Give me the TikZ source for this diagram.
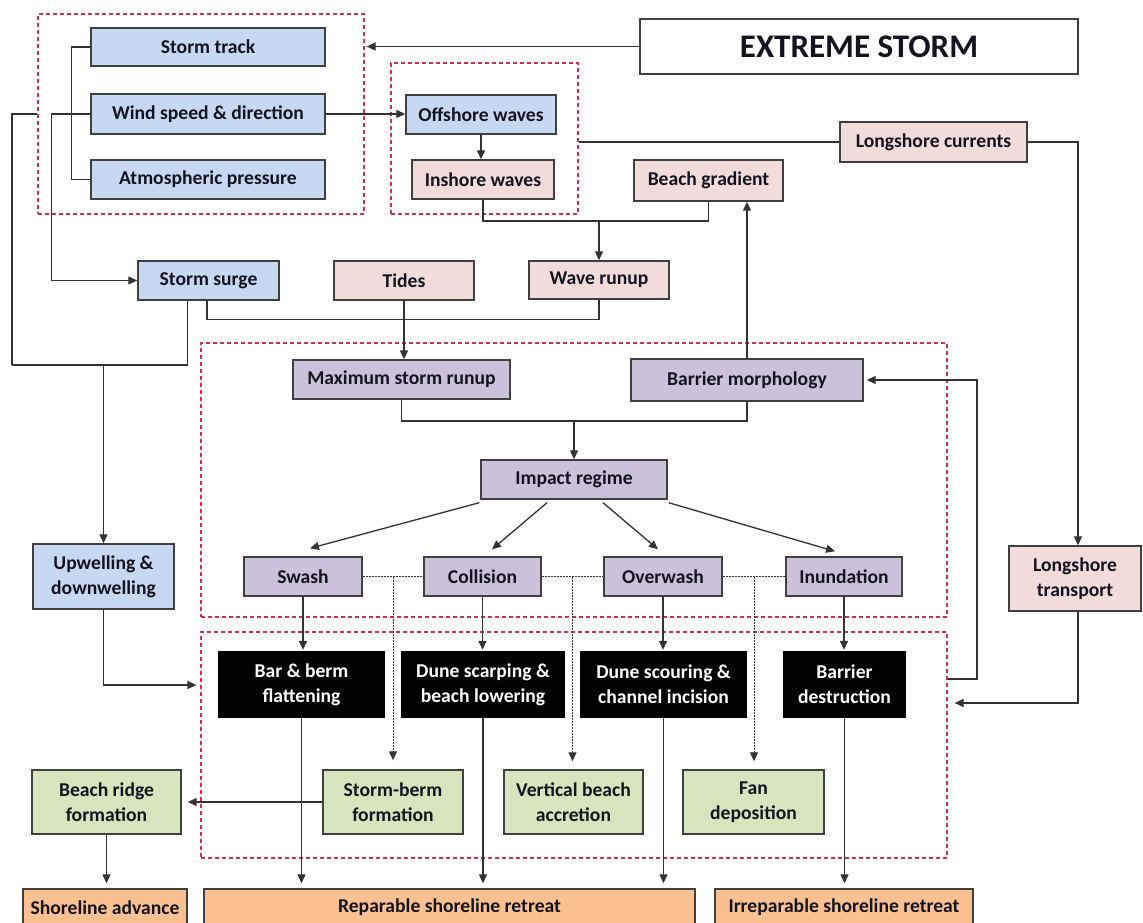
\documentclass[tikz,border=0pt]{standalone}
\usepackage{fontspec}
\setmainfont{Carlito}
\usetikzlibrary{arrows.meta,calc}
\definecolor{cblue}{HTML}{C6D9F1}
\definecolor{cpink}{HTML}{F2DCDB}
\definecolor{cpurp}{HTML}{CCC1DA}
\definecolor{cgreen}{HTML}{D7E4BD}
\definecolor{corange}{HTML}{FAC090}
\definecolor{boxline}{HTML}{404040}
\definecolor{lcol}{HTML}{333333}
\definecolor{dred}{HTML}{D03050}
\definecolor{txt}{HTML}{141420}
\begin{document}
\begin{tikzpicture}[x=1pt,y=-1pt,
  sz/.style 2 args={minimum width=#1pt, minimum height=#2pt},
  box/.style={draw=boxline, line width=1.4pt, inner sep=0pt, align=center,
    font=\fontsize{19.6}{25}\selectfont\bfseries, text=txt},
  bl/.style={box, fill=cblue},
  pk/.style={box, fill=cpink},
  pu/.style={box, fill=cpurp},
  gr/.style={box, fill=cgreen},
  og/.style={box, fill=corange},
  bk/.style={box, fill=black, draw=black, text=white},
  grp/.style={draw=dred, line width=1.2pt, dash pattern=on 4pt off 3pt, inner sep=0pt},
  con/.style={draw=lcol, line width=1.3pt},
  arr/.style={con, -{Triangle[length=9pt,width=8pt]}},
  dot/.style={draw=lcol, line width=1pt, dash pattern=on 2pt off 1pt},
  darr/.style={dot, -{Triangle[length=9pt,width=8pt]}},
]
\useasboundingbox (0,0) rectangle (1143,923);
% group frames
\node[grp, sz={326}{200}] (d1) at (201,114) {};
\node[grp, sz={187}{151}] (d2) at (484.5,138.5) {};
\node[grp, sz={746}{226}] (d4) at (574,745) {};
\node[grp, sz={746}{274}] (d3) at (574,480) {};
% nodes
\node[box, fill=white, sz={438}{55}, font=\fontsize{33}{36}\selectfont\bfseries] (storm) at (859,46.5) {EXTREME STORM};
\node[bl, sz={234}{38}] (track) at (208,47) {Storm track};
\node[bl, sz={234}{40}] (wind) at (208,114) {Wind speed \& direction};
\node[bl, sz={234}{39}] (atmo) at (208,179.5) {Atmospheric pressure};
\node[bl, sz={150}{39}] (off) at (481,114.5) {Offshore waves};
\node[pk, sz={142}{39}] (insh) at (483,179.5) {Inshore waves};
\node[pk, sz={187}{40}] (lsc) at (933.5,142) {Longshore currents};
\node[pk, sz={149}{41}] (bgrad) at (708.5,180.5) {Beach gradient};
\node[bl, sz={141}{39}] (surge) at (208.5,280.5) {Storm surge};
\node[pk, sz={140}{39}] (tides) at (404,280.5) {Tides};
\node[pk, sz={140}{38}] (wrun) at (599,280) {Wave runup};
\node[pu, sz={217}{39}] (maxrun) at (401.5,379.5) {Maximum storm runup};
\node[pu, sz={232}{42}] (bmorph) at (747,380) {Barrier morphology};
\node[pu, sz={186}{39}] (impact) at (574,479.5) {Impact regime};
\node[pu, sz={118}{39}] (swash) at (303,576.5) {Swash};
\node[pu, sz={117}{39}] (coll) at (482.5,576.5) {Collision};
\node[pu, sz={118}{39}] (over) at (663,576.5) {Overwash};
\node[pu, sz={116}{39}] (inund) at (844,576.5) {Inundation};
\node[bl, sz={141}{65}] (upw) at (103.5,576.5) {Upwelling \&\\downwelling};
\node[pk, sz={132}{65}] (lst) at (1075,578.5) {Longshore\\transport};
\node[bk, sz={165}{65}] (bar) at (301.5,684.5) {Bar \& berm\\flattening};
\node[bk, sz={162}{65}] (dscarp) at (483,684.5) {Dune scarping \&\\beach lowering};
\node[bk, sz={165}{65}] (dscour) at (663.5,684.5) {Dune scouring \&\\channel incision};
\node[bk, sz={121}{65}] (bdest) at (844.5,684.5) {Barrier\\destruction};
\node[gr, sz={149}{64}] (ridge) at (106.5,802) {Beach ridge\\formation};
\node[gr, sz={140}{64}] (sberm) at (393,802) {Storm-berm\\formation};
\node[gr, sz={139}{64}] (vert) at (573.5,802) {Vertical beach\\accretion};
\node[gr, sz={141}{64}] (fan) at (753.5,802) {Fan\\deposition};
\node[og, sz={164}{37}] (adv) at (105,907.5) {Shoreline advance};
\node[og, sz={491}{37}] (rep) at (449.5,907.5) {Reparable shoreline retreat};
\node[og, sz={258}{37}] (irrep) at (844,907.5) {Irreparable shoreline retreat};
% helper coordinates
\coordinate (j1) at (12,365);
\coordinate (yA) at (0,221);
\coordinate (yB) at (0,421);
\coordinate (yU) at (0,685);
\coordinate (yL) at (0,703);
\coordinate (yF) at (0,679);
\coordinate (xF) at (977,0);
% connectors top
\draw[arr, shorten >=2pt] (storm.west) -- (storm.west -| d1.east);
\draw[arr] (wind.east) -- (wind.east -| off.west);
\draw[con] (track.west) -- ++(-19,0) |- (atmo.west);
\draw[arr] (wind.west) -- ++(-39,0) |- (surge.west);
\draw[con] (d1.west |- wind.west) -| (j1);
\draw[con] ([xshift=-21pt]surge.south) |- (j1);
\draw[arr] (upw.north |- j1) -- (upw.north);
\draw[con] ([xshift=-1.5pt]surge.south) -- ++(0,19) -| (wrun.south);
\draw[arr] (tides.south) -- (tides.south |- maxrun.north);
\draw[arr] (off.south) -- (off.south |- insh.north);
\draw[con] (insh.south) |- (yA -| bgrad.south) -- (bgrad.south);
\draw[arr] (wrun.north |- yA) -- (wrun.north);
\draw[con] (d2.east |- lsc.west) -- (lsc.west);
\draw[arr] (lsc.east) -| ([xshift=3pt]lst.north);
\draw[arr] (bmorph.north) -- (bmorph.north |- bgrad.south);
\draw[con] (maxrun.south) |- (yB -| bmorph.south) -- (bmorph.south);
\draw[arr] (impact.north |- yB) -- (impact.north);
% impact regime fan-out
\draw[arr] ([xshift=-1pt,yshift=-3pt]impact.south west) -- ([xshift=7pt,yshift=8pt]swash.north);
\draw[arr] ([xshift=-27pt,yshift=-3pt]impact.south) -- ([xshift=9.5pt,yshift=7pt]coll.north);
\draw[arr] ([xshift=29pt,yshift=-3pt]impact.south) -- ([xshift=-5pt,yshift=7pt]over.north);
\draw[arr] ([xshift=1pt,yshift=-3pt]impact.south east) -- ([xshift=-9pt,yshift=5pt]inund.north);
% dotted links
\draw[dot] (swash.east) -- (coll.west);
\draw[dot] (coll.east) -- (over.west);
\draw[dot] (over.east) -- (inund.west);
\coordinate (m1) at ($(swash.east)!0.5!(coll.west)$);
\coordinate (m2) at ($(coll.east)!0.5!(over.west)$);
\coordinate (m3) at ($(over.east)!0.5!(inund.west)$);
\draw[darr, shorten >=9pt] (m1) -- (m1 |- sberm.north);
\draw[darr, shorten >=8pt] (m2) -- (m2 |- vert.north);
\draw[darr, shorten >=8pt] (m3) -- (m3 |- fan.north);
% regime to process
\draw[arr, shorten >=1.5pt] (swash.south) -- (swash.south |- bar.north);
\draw[arr, shorten >=1.5pt] (coll.south) -- (coll.south |- dscarp.north);
\draw[arr, shorten >=1.5pt] (over.south) -- (over.south |- dscour.north);
\draw[arr, shorten >=1.5pt] (inund.south) -- (inund.south |- bdest.north);
% process to outcome
\draw[arr, shorten >=5pt] (bar.south) -- (bar.south |- rep.north);
\draw[arr, shorten >=5pt] (dscarp.south) -- (dscarp.south |- rep.north);
\draw[arr, shorten >=5pt] (dscour.south) -- (dscour.south |- rep.north);
\draw[arr, shorten >=5pt] (bdest.south) -- (bdest.south |- irrep.north);
\draw[arr, shorten >=6pt] (sberm.west) -- (sberm.west -| ridge.east);
\draw[arr, shorten >=5pt] (ridge.south) -- (ridge.south |- adv.north);
% side loops
\draw[arr, shorten >=4pt] (upw.south) |- (yU -| d4.west);
\draw[arr, shorten >=7pt] ([xshift=3pt]lst.south) |- (yL -| d4.east);
\draw[arr, shorten >=3pt] (yF -| d4.east) -| (xF |- bmorph.east) -- (bmorph.east);
\end{tikzpicture}
\end{document}
